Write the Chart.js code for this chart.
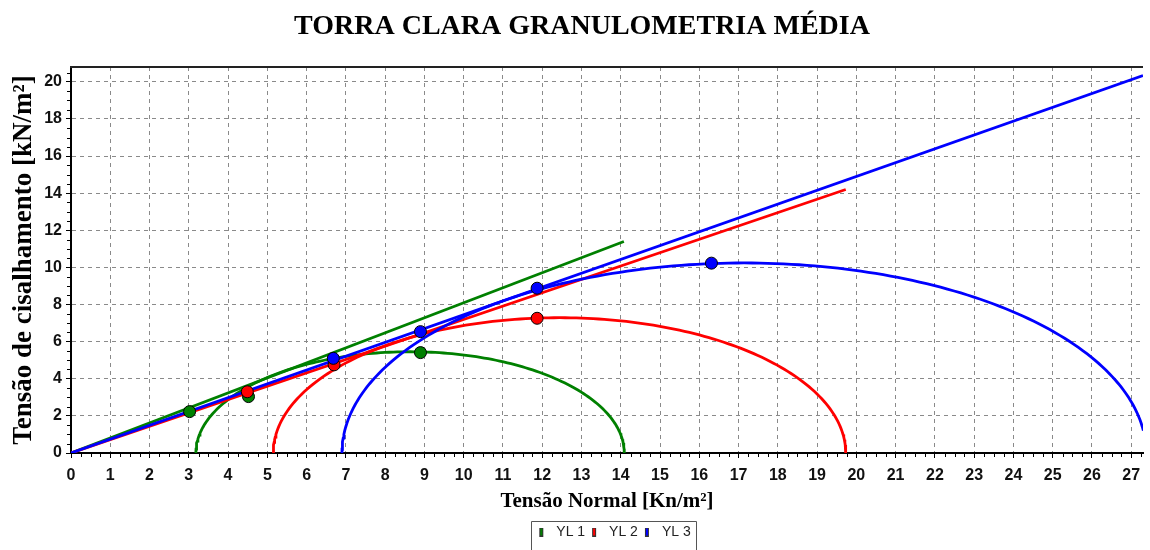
<!DOCTYPE html>
<html>
<head>
<meta charset="utf-8">
<title>Torra Clara – Granulometria Média</title>
<script src="https://cdn.jsdelivr.net/npm/chart.js@4/dist/chart.umd.min.js"></script>
<style>
  html, body { margin: 0; padding: 0; background: #ffffff; }
  #wrap { width: 1150px; height: 550px; }
</style>
</head>
<body>
<div id="wrap"><canvas id="chart" width="1150" height="550"></canvas></div>
<script>
// ---- series ----
const seriesNames  = ['YL 1', 'YL 2', 'YL 3'];
const seriesColors = ['#008000', '#ff0000', '#0000ff'];

// Mohr circles: minor / major principal stress of each test [kN/m²]
const sigma3 = [3.18, 5.15, 6.90];
const sigma1 = [14.09, 19.73, 27.38];

// failure envelopes, drawn from the origin to these end points
const envelopeEndX = [14.08, 19.73, 27.30];
const envelopeEndY = [11.40, 14.20, 20.34];

// measured stress points of each series
const pointsX_YL1 = [3.02, 4.52, 8.90];
const pointsY_YL1 = [2.23, 3.04, 5.41];
const pointsX_YL2 = [4.49, 6.70, 11.87];
const pointsY_YL2 = [3.30, 4.75, 7.26];
const pointsX_YL3 = [6.68, 8.90, 11.87, 16.31];
const pointsY_YL3 = [5.10, 6.54, 8.88, 10.23];

// axes
const xMax = 27.3, xStep = 1, xMinorStep = 0.25;
const yMax = 20.8, yStep = 2, yMinorStep = 0.5;

const titleText  = 'TORRA CLARA GRANULOMETRIA MÉDIA';
const xAxisTitle = 'Tensão Normal [Kn/m²]';
const yAxisTitle = 'Tensão de cisalhamento [kN/m²]';

// ---- helpers ----
const zip = (xs, ys) => xs.map((x, i) => ({ x, y: ys[i] }));

// upper half of a Mohr circle between sigma3 and sigma1
function mohrArc(s3, s1, steps) {
  const c = (s1 + s3) / 2, r = (s1 - s3) / 2, pts = [];
  for (let i = 0; i <= steps; i++) {
    const a = Math.PI * i / steps;
    pts.push({ x: c - r * Math.cos(a), y: r * Math.sin(a) });
  }
  return pts;
}

function lineSet(data, color, order) {
  return { data, showLine: true, borderColor: color, backgroundColor: color,
           borderWidth: 2.8, pointRadius: 0, pointHoverRadius: 0, order, tension: 0 };
}
function markerSet(data, color) {
  return { data, showLine: false, backgroundColor: color, borderColor: '#000000',
           borderWidth: 1, pointRadius: 6, pointHoverRadius: 6, order: 0 };
}

// small legend swatch: narrow outlined bar
function swatch(color) {
  const cv = document.createElement('canvas');
  cv.width = 12; cv.height = 9;
  const g = cv.getContext('2d');
  g.fillStyle = '#333333'; g.fillRect(2, 0, 4, 9);
  g.fillStyle = color;     g.fillRect(3, 1, 2, 7);
  return cv;
}

const markerSets = [zip(pointsX_YL3, pointsY_YL3), zip(pointsX_YL2, pointsY_YL2), zip(pointsX_YL1, pointsY_YL1)];

const datasets = [
  markerSet(markerSets[0], seriesColors[2]),
  markerSet(markerSets[1], seriesColors[1]),
  markerSet(markerSets[2], seriesColors[0])
];
for (let k = 2; k >= 0; k--) {
  const ord = 3 - k;
  datasets.push(lineSet([{ x: 0, y: 0 }, { x: envelopeEndX[k], y: envelopeEndY[k] }], seriesColors[k], ord));
  datasets.push(lineSet(mohrArc(sigma3[k], sigma1[k], 160), seriesColors[k], ord));
}

const LEGEND_PAD = 5;

const decorations = {
  id: 'decorations',
  afterLayout(chart) {
    chart.titleBlock.left += 7; chart.titleBlock.right += 7;
    chart.legend.left += 7;     chart.legend.right += 7;
  },
  afterDraw(chart) {
    const { ctx, chartArea: a, scales: { x, y } } = chart;
    ctx.save();
    // minor tick marks
    ctx.strokeStyle = '#000000'; ctx.lineWidth = 1;
    ctx.beginPath();
    for (let v = xMinorStep; v <= xMax + 1e-9; v += xMinorStep) {
      if (Math.abs(v / xStep - Math.round(v / xStep)) < 1e-6) continue;
      const px = Math.round(x.getPixelForValue(v)) + 0.5;
      ctx.moveTo(px, a.bottom + 1); ctx.lineTo(px, a.bottom + 4);
    }
    for (let v = yMinorStep; v <= yMax + 1e-9; v += yMinorStep) {
      if (Math.abs(v / yStep - Math.round(v / yStep)) < 1e-6) continue;
      const py = Math.round(y.getPixelForValue(v)) + 0.5;
      ctx.moveTo(a.left - 4, py); ctx.lineTo(a.left - 1, py);
    }
    ctx.stroke();
    // top frame line
    ctx.strokeStyle = '#222222'; ctx.lineWidth = 2;
    ctx.beginPath(); ctx.moveTo(a.left - 1, a.top); ctx.lineTo(a.right, a.top); ctx.stroke();
    // legend frame
    const lg = chart.legend;
    const lw = lg.lineWidths[0];
    const start = ((lg.left + LEGEND_PAD) + (lg.right - lw)) / 2;
    const left = Math.round(start - 6) + 0.5;
    const right = Math.round(start + lw - LEGEND_PAD + 5) + 0.5;
    const top = Math.round(lg.top + 1) + 0.5;
    ctx.strokeStyle = '#555555'; ctx.lineWidth = 1;
    ctx.beginPath();
    ctx.moveTo(left, 560); ctx.lineTo(left, top); ctx.lineTo(right, top); ctx.lineTo(right, 560);
    ctx.stroke();
    ctx.restore();
  }
};

const tickFont = { family: "'Liberation Sans', Arial, sans-serif", size: 16, weight: 'bold' };

new Chart(document.getElementById('chart'), {
  type: 'scatter',
  data: { datasets },
  options: {
    responsive: false,
    animation: false,
    devicePixelRatio: 1,
    events: [],
    layout: { padding: { left: 0, right: 0, top: 0, bottom: 1 } },
    plugins: {
      tooltip: { enabled: false },
      title: {
        display: true,
        text: titleText,
        color: '#000000',
        font: { family: "'Liberation Serif', 'Times New Roman', serif", size: 28, weight: 'bold', lineHeight: 1.2 },
        padding: { top: 10, bottom: 23.4 }
      },
      legend: {
        display: true,
        position: 'bottom',
        fullSize: false,
        onClick: null,
        labels: {
          usePointStyle: true,
          pointStyleWidth: 12,
          boxHeight: 9,
          padding: LEGEND_PAD,
          color: '#222222',
          font: { family: "'Liberation Sans', Arial, sans-serif", size: 14 },
          generateLabels: () => seriesNames.map((name, i) => ({
            text: name, fontColor: '#222222', pointStyle: swatch(seriesColors[i]),
            fillStyle: seriesColors[i], strokeStyle: '#333333', lineWidth: 0,
            hidden: false, datasetIndex: i
          }))
        }
      }
    },
    scales: {
      x: {
        type: 'linear',
        min: 0, max: xMax,
        afterFit: s => { s.height = 67; },
        border: { display: true, color: '#000000', width: 2, dash: [4, 4] },
        grid: { color: '#8a8a8a', lineWidth: 1, drawTicks: true, tickLength: 5,
                tickColor: '#000000', tickWidth: 1, tickBorderDash: [] },
        ticks: { stepSize: xStep, includeBounds: false, autoSkip: false, maxRotation: 0,
                 padding: 8, color: '#111111', font: tickFont,
                 callback: v => String(v) },
        title: { display: true, text: xAxisTitle, color: '#000000',
                 font: { family: "'Liberation Serif', 'Times New Roman', serif", size: 21, weight: 'bold', lineHeight: 1.2 },
                 padding: { top: 0, bottom: 6 } }
      },
      y: {
        type: 'linear',
        min: 0, max: yMax,
        afterFit: s => { s.width = 71; },
        border: { display: true, color: '#000000', width: 2, dash: [4, 4] },
        grid: { color: '#8a8a8a', lineWidth: 1, drawTicks: true, tickLength: 5,
                tickColor: '#000000', tickWidth: 1, tickBorderDash: [] },
        ticks: { stepSize: yStep, includeBounds: false, autoSkip: false,
                 padding: 4, color: '#111111', font: tickFont,
                 callback: v => String(v) },
        title: { display: true, text: yAxisTitle, color: '#000000',
                 font: { family: "'Liberation Serif', 'Times New Roman', serif", size: 27, weight: 'bold', lineHeight: 1.2 },
                 padding: { top: 8, bottom: 0 } }
      }
    }
  },
  plugins: [decorations]
});
</script>
</body>
</html>
